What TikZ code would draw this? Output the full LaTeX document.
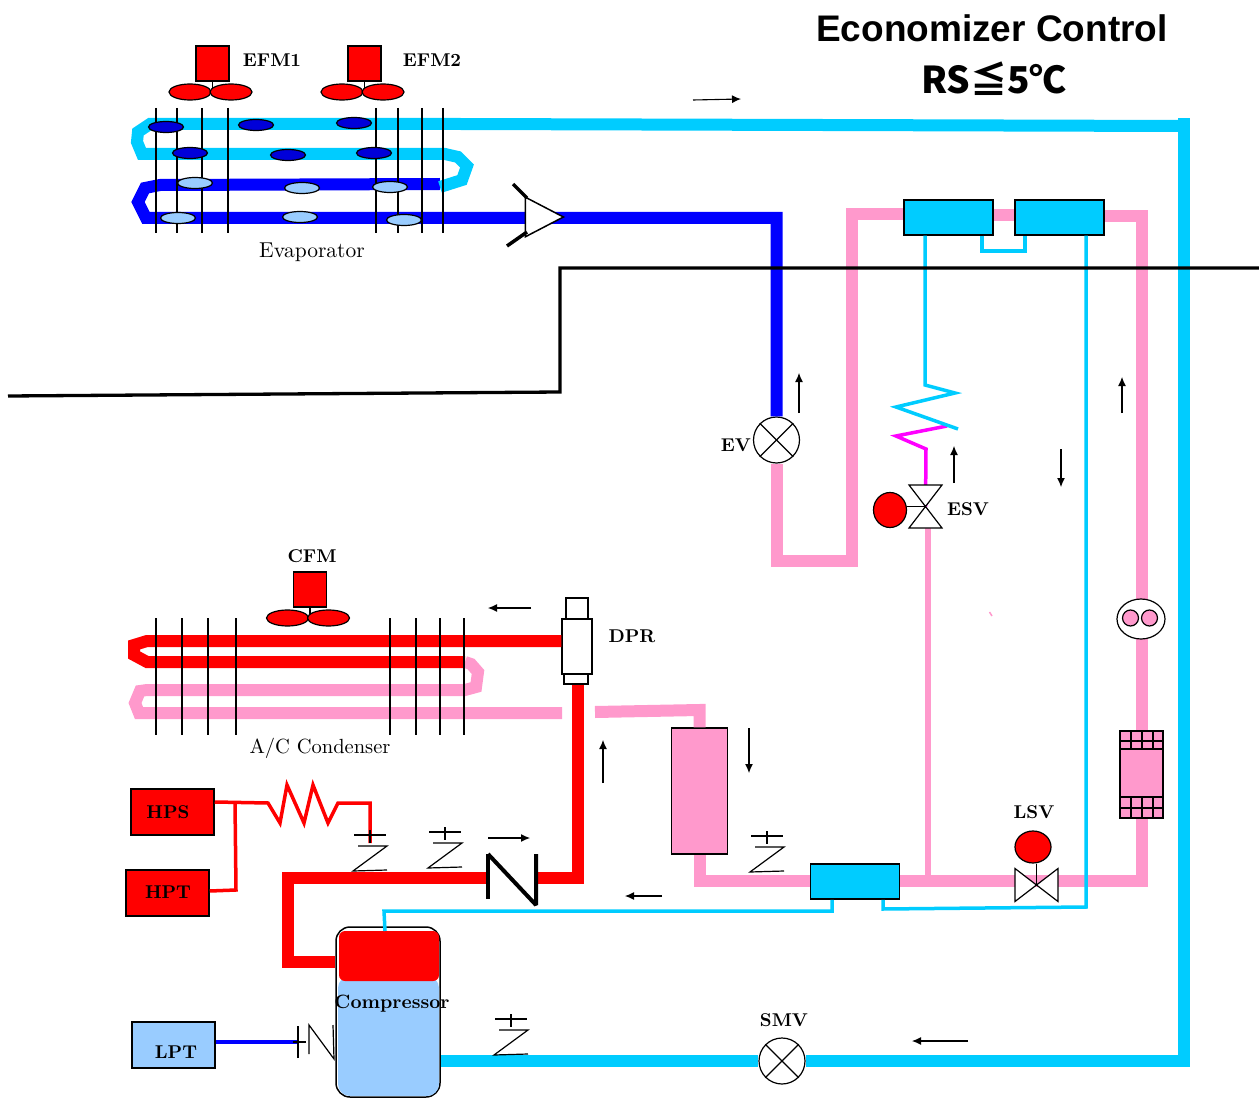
\documentclass[tikz,border=0pt]{standalone}
\usepackage{fontspec}
\usetikzlibrary{arrows.meta}
\usetikzlibrary{shapes.geometric}
\newfontfamily\titlefont{Liberation Sans}
\newfontfamily\cjkfont{Noto Sans CJK JP}
\newfontfamily\lblfont{lmroman10-bold}[Extension=.otf]
\newfontfamily\capfont{lmroman10-regular}[Extension=.otf]
\definecolor{icecyan}{HTML}{00CCFF}
\definecolor{liqpink}{HTML}{FF99CC}
\definecolor{paleblue}{HTML}{99CCFF}
\definecolor{hotmagenta}{HTML}{FF00FF}
\newcommand{\lblsize}{\lblfont\fontsize{18.5}{20}\selectfont}
\newcommand{\capsize}{\capfont\fontsize{21.5}{23}\selectfont}

\begin{document}
\begin{tikzpicture}[
				x=1pt,y=-1pt,
				pipe/.style={line width=12pt},
				cyanpipe/.style={pipe,color=icecyan},
				bluepipe/.style={pipe,color=blue},
				pinkpipe/.style={pipe,color=liqpink},
				redpipe/.style={pipe,color=red},
				capline/.style={line width=3.5pt},
				fin/.style={line width=1.4pt},
				flow/.style={-{Latex[length=9pt,width=8pt]},line width=1.1pt},
				unit/.style={draw,line width=1.5pt,rectangle,inner sep=0pt},
				hxbox/.style={unit,fill=icecyan,minimum width=89pt,minimum height=35pt},
				sensor/.style={unit,minimum width=83pt,minimum height=46pt},
				blade/.style={draw,line width=1.2pt,ellipse,fill=red,minimum width=42pt,minimum height=16pt,inner sep=0pt},
				drop/.style={draw,line width=1.2pt,ellipse,minimum width=35pt,minimum height=11pt,inner sep=0pt},
				act/.style={draw,line width=1.2pt,fill=red,ellipse,inner sep=0pt},
				crossvalve/.style={draw,line width=1.2pt,circle,fill=white,minimum size=46pt,inner sep=0pt},
				lbl/.style={font=\lblsize,inner sep=0pt},
				caption/.style={font=\capsize,inner sep=0pt},
				fanunit/.pic={
					\draw[line width=1.2pt] (0,17) -- (0,26);
					\node[unit,fill=red,minimum width=33pt,minimum height=35pt] (box) at (0,0) {};
					\node[blade] (l) at (-22.5,28.5) {};
					\node[blade] (r) at (18.5,28.5) {};
				},
				portmark/.pic={
					\draw[line width=1.2pt] (-16,0) -- (16,0);
					\draw[line width=1.2pt] (0,-5) -- (0,8);
					\draw[line width=1.2pt] (-12,11) -- (17,11) -- (-17,36) -- (17,35);
				},
				bowtie/.pic={
					\draw[line width=1.2pt,fill=white] (-16.5,-21.5) -- (16.5,-21.5) -- (-16.5,21.5) -- (16.5,21.5) -- cycle;
				},
				]
				\useasboundingbox (0,0) rectangle (1259,1110);

				\node[hxbox] (hxa) at (948.5,217.5) {};
				\node[hxbox] (hxb) at (1059.5,217.5) {};
				\node[hxbox] (hxc) at (855,881.5) {};
				\node[unit,fill=liqpink,minimum width=56pt,minimum height=126pt] (rcv) at (699.5,791) {};
				\node[crossvalve] (ev) at (776.5,440) {};
				\node[crossvalve] (smv) at (782,1061) {};
				\node[unit,fill=white,minimum width=30pt,minimum height=55pt] (dpr) at (577,646.5) {};
				\node[unit,fill=white,minimum width=22pt,minimum height=21pt] (dprtop) at (577,608.5) {};
				\node[unit,fill=white,minimum width=24pt,minimum height=10pt] (dprbot) at (576,679) {};
				\node[unit,fill=white,rounded corners=14pt,minimum width=104pt,minimum height=170pt] (comp) at (388,1012) {};
				\node[rectangle,fill=paleblue,rounded corners=12pt,minimum width=101pt,minimum height=120pt,inner sep=0pt] (compbase) at (388.5,1036) {};
				\node[rectangle,fill=red,rounded corners=6pt,minimum width=100pt,minimum height=50pt,inner sep=0pt] (comptop) at (389,956) {};
				\node[sensor,fill=red] (hps) at (172.5,812) {};
				\node[sensor,fill=red] (hpt) at (167.5,893) {};
				\node[sensor,fill=paleblue] (lpt) at (173.5,1045) {};

				\coordinate (esv) at (925.5,506.5);
				\coordinate (esvout) at (928,515);
				\coordinate (lsv) at (1036.5,885);
				\coordinate (chkin) at (536,878);
				\coordinate (chkout) at (488,878);
				\coordinate (condin) at (562,713);
				\coordinate (rcvin) at (595,712);
				\coordinate (lptport) at (298,1042);
				\coordinate (compin) at (385,931);
				\coordinate (coilmid) at (440,187);
				\coordinate (cond) at (465,662);

				% thick refrigerant lines
				\draw[bluepipe] (coilmid |- 0,184) -- (160,185) -- (145,188) -- (138,202) -- (146,218) -- (ev |- 0,218) -- (ev);
				\draw[cyanpipe] (comp.east |- 0,1061) -- (smv);
				\draw[cyanpipe] (smv) -- (1184,1061) -- (1184,118);
				\draw[cyanpipe] (1184,126) -- (460,124) -- (150,124) -- (138,132) -- (137,142) -- (142,154) -- (445,154) -- (458,157) -- (467,166) -- (462,180) -- (coilmid);
				\draw[pinkpipe] (ev) -- (ev |- 0,561) -- (852,561) -- (852,214) -- (hxa.west |- 0,214);
				\draw[pinkpipe] (hxa.east |- 0,215) -- (hxb.west |- 0,215);
				\draw[pinkpipe] (hxb.east |- 0,216) -- (1142,216) -- (1142,881) -- (hxc.east |- 0,881);
				\draw[pinkpipe] (hxc.west |- 0,881) -- (699.5,881) -- (rcv.south);
				\draw[pinkpipe] (rcv.north) -- (699.5,710) -- (rcvin);
				\draw[redpipe] (dpr.west |- 0,641) -- (147,641) -- (134,645) -- (134,655) -- (147,662) -- (cond);
				\draw[pinkpipe] (cond) -- (471,664) -- (478,672) -- (476,687) -- (465,690) -- (147,690) -- (140,691) -- (135,703) -- (139,713) -- (condin);
				\draw[redpipe] (dprbot.south -| 578,0) -- (chkin -| 578,0) -- (chkin);
				\draw[redpipe] (chkout) -- (288,878) -- (288,962) -- (comp.west |- 0,962);
				\draw[color=liqpink,line width=6pt] (esvout) -- (esvout |- 0,881);
				\draw[color=liqpink,line width=1.5pt] (989.5,612) -- (992,616);

				% thin lines
				\draw[capline,color=icecyan] (hxa.south -| 982,0) -- (982,251) -- (1025,251) -- (hxb.south -| 1025,0);
				\draw[capline,color=icecyan] (hxb.south -| 1086,0) -- (1086,907) -- (883,909) -- (hxc.south -| 883,0);
				\draw[capline,color=icecyan] (hxc.south -| 832,0) -- (832,911) -- (384,911) -- (compin);
				\draw[capline,color=hotmagenta] (esv) -- (926,449) -- (896,436) -- (947,426);
				\draw[capline,color=icecyan] (hxa.south -| 925,0) -- (925,385) -- (955,393) -- (896,407) -- (958,429);
				\draw[capline,color=blue] (lpt.east |- lptport) -- (lptport);
				\draw[capline,color=red] (hps.east |- 0,802) -- (268,803) -- (280,823) -- (287,785) -- (304,823) -- (313,785) -- (328,823) -- (338,803) -- (370,803) -- (370,843);
				\draw[capline,color=red] (235,802) -- (236,890) -- (hpt.east |- 0,891);

				% room wall
				\draw[line width=3.3pt] (1259,268) -- (560,268) -- (560,392) -- (8,396);

				\foreach \fx in {156,177,202,228,376,398,422,443}
					\draw[fin] (\fx,108) -- (\fx,233);
				\foreach \fx in {156,182,208,236,390,416,440,464}
					\draw[fin] (\fx,618) -- (\fx,735);
				\foreach \n/\px/\py in {a/166/127,b/256/125,c/354/123,d/190/153,e/288/155,f/374/153}
					\node[drop,fill=blue!85!black] (dark\n) at (\px,\py) {};
				\foreach \n/\px/\py in {a/195/183,b/302/188,c/390/187,d/178/218,e/300/217,f/404/220}
					\node[drop,fill=paleblue] (pale\n) at (\px,\py) {};

				\pic (efma) at (212.5,63.5) {fanunit};
				\pic (efmb) at (364.5,63.5) {fanunit};
				\pic (cfm) at (310,589.5) {fanunit};

				% distributor
				\node[draw,line width=1.5pt,fill=white,isosceles triangle,isosceles triangle apex angle=55,minimum height=38pt,inner sep=0pt,anchor=apex] (dist) at (565,217) {};
				\draw[line width=3.5pt] (513,184) -- (527,198);
				\draw[line width=3.5pt] (507,246) -- (527,232);

				% valves
				\foreach \v in {ev,smv}{
					\draw[line width=1.2pt] (\v.45) -- (\v.225);
					\draw[line width=1.2pt] (\v.135) -- (\v.315);
				}
				\node[act,minimum width=33pt,minimum height=35pt] (esvact) at (890,510) {};
				\draw[line width=1.2pt] (esvact.east |- esv) -- (esv);
				\pic at (esv) {bowtie};
				\node[act,minimum width=36pt,minimum height=32pt] (lsvact) at (1033,847) {};
				\draw[line width=1.2pt] (lsvact.south -| lsv) -- (lsv);
				\pic[rotate=90] at (lsv) {bowtie};

				% check valve
				\draw[line width=4pt] (488,854) -- (488,899);
				\draw[line width=4pt,line join=bevel] (488,854) -- (536,905) -- (536,854);

				% sight glass and drier
				\node[draw,line width=1.2pt,ellipse,fill=white,minimum width=48pt,minimum height=40pt,inner sep=0pt] (glass) at (1141,619) {};
				\node[draw,line width=1.2pt,circle,fill=liqpink,minimum size=16pt,inner sep=0pt] (glassa) at (1130.5,618) {};
				\node[draw,line width=1.2pt,circle,fill=liqpink,minimum size=16pt,inner sep=0pt] (glassb) at (1149.5,618) {};
				\node[unit,fill=liqpink,minimum width=43pt,minimum height=87pt] (drier) at (1141.5,774.5) {};
				\foreach \gy in {741,749,797,808}
					\draw[line width=1.2pt] (drier.west |- 0,\gy) -- (drier.east |- 0,\gy);
				\foreach \gx in {1131,1142,1153}{
					\draw[line width=1.2pt] (\gx,731) -- (\gx,749);
					\draw[line width=1.2pt] (\gx,797) -- (\gx,818);
				}

				\pic at (370,835) {portmark};
				\pic at (445,832) {portmark};
				\pic at (767,836) {portmark};
				\pic at (511,1019) {portmark};
				\pic[rotate=90] at (lptport) {portmark};

				% flow arrows
				\draw[flow] (693,100) -- (741,99);
				\draw[flow] (799,413) -- (799,373);
				\draw[flow] (954,483) -- (954,446);
				\draw[flow] (1061,449) -- (1061,487);
				\draw[flow] (1122,413) -- (1122,377);
				\draw[flow] (531,608) -- (488,608);
				\draw[flow] (603,783) -- (603,740);
				\draw[flow] (749,728) -- (749,773);
				\draw[flow] (488,838) -- (530,838);
				\draw[flow] (662,896) -- (625,896);
				\draw[flow] (968,1041) -- (912,1041);

				% labels
				\node[font=\titlefont\bfseries\fontsize{37}{40}\selectfont,inner sep=0pt] (title) at (992,28) {Economizer Control};
				\node[font=\cjkfont\bfseries\fontsize{37}{40}\selectfont,inner sep=0pt] (rslimit) at (994,79) {RS≦5℃};
				\node[lbl] (efmalbl) at (272,60) {EFM1};
				\node[lbl] (efmblbl) at (432,60) {EFM2};
				\node[caption] (evaplbl) at (312,252) {Evaporator};
				\node[caption,font=\capfont\fontsize{20.5}{23}\selectfont] (condlbl) at (320,748) {A/C Condenser};
				\node[lbl] (cfmlbl) at (312,556) {CFM};
				\node[lbl] (dprlbl) at (632,636) {DPR};
				\node[lbl] (evlbl) at (736,445) {EV};
				\node[lbl] (esvlbl) at (968,509) {ESV};
				\node[lbl] (lsvlbl) at (1034,812) {LSV};
				\node[lbl] (smvlbl) at (784,1020) {SMV};
				\node[lbl] (hpslbl) at (168,812) {HPS};
				\node[lbl] (hptlbl) at (168,892) {HPT};
				\node[lbl] (lptlbl) at (176,1052) {LPT};
				\node[lbl,font=\lblfont\fontsize{19.3}{20}\selectfont] (complbl) at (392,1004) {Compressor};
			\end{tikzpicture}
\end{document}
